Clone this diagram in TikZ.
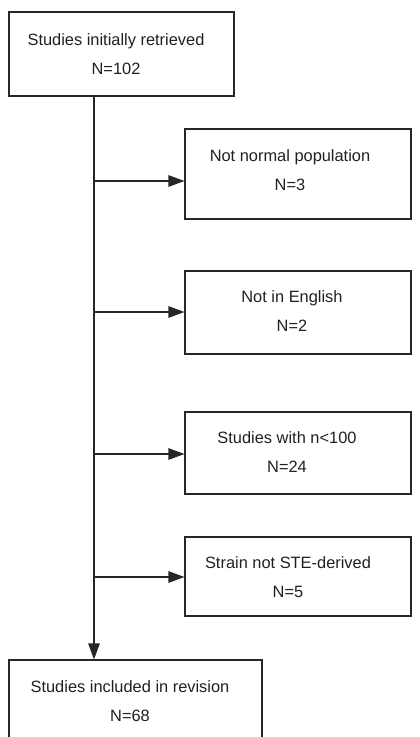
\documentclass[tikz,border=0pt]{standalone}
\usepackage{fontspec}
\setmainfont{Liberation Sans}
\usetikzlibrary{arrows.meta}
\definecolor{ink}{RGB}{35,31,32}
\definecolor{edge}{RGB}{40,38,38}
\begin{document}
\begin{tikzpicture}[x=1pt,y=-1pt,
  box/.style={draw=edge, line width=1.1pt, rectangle, inner sep=0pt},
  rbox/.style={box, minimum width=226pt},
  lbl/.style={inner sep=0pt, align=center, text=ink, font=\fontsize{16.4}{29}\selectfont},
  arr/.style={draw=edge, line width=1.1pt, -{Triangle[length=16pt,width=11.5pt]}}]
\clip (0,0) rectangle (420,737);
\node[box, minimum width=225pt, minimum height=84pt] (top) at (121.5,54) {};
\node[lbl] (ttop) at (116,54) {Studies initially retrieved\\N=102};
\node[rbox, minimum height=90pt] (b1) at (298,174) {};
\node[lbl] (tb1) at (290,170) {Not normal population\\N=3};
\node[rbox, minimum height=83pt] (b2) at (298,312.5) {};
\node[lbl] (tb2) at (292,311.5) {Not in English\\N=2};
\node[rbox, minimum height=82pt] (b3) at (298,453) {};
\node[lbl] (tb3) at (287,452.5) {Studies with n<100\\N=24};
\node[rbox, minimum height=79pt] (b4) at (298,576.5) {};
\node[lbl] (tb4) at (288,577.5) {Strain not STE-derived\\N=5};
\node[box, minimum width=253pt, minimum height=84pt] (bot) at (135.5,702) {};
\node[lbl] (tbot) at (130,701) {Studies included in revision\\N=68};
\coordinate (tx) at (94,0);
\coordinate (j1) at (94,181);
\coordinate (j2) at (94,312);
\coordinate (j3) at (94,454);
\coordinate (j4) at (94,577);
\draw[arr] (top.south -| tx) -- (bot.north -| tx);
\draw[arr] (j1) -- (j1 -| b1.west);
\draw[arr] (j2) -- (j2 -| b2.west);
\draw[arr] (j3) -- (j3 -| b3.west);
\draw[arr] (j4) -- (j4 -| b4.west);
\end{tikzpicture}
\end{document}
